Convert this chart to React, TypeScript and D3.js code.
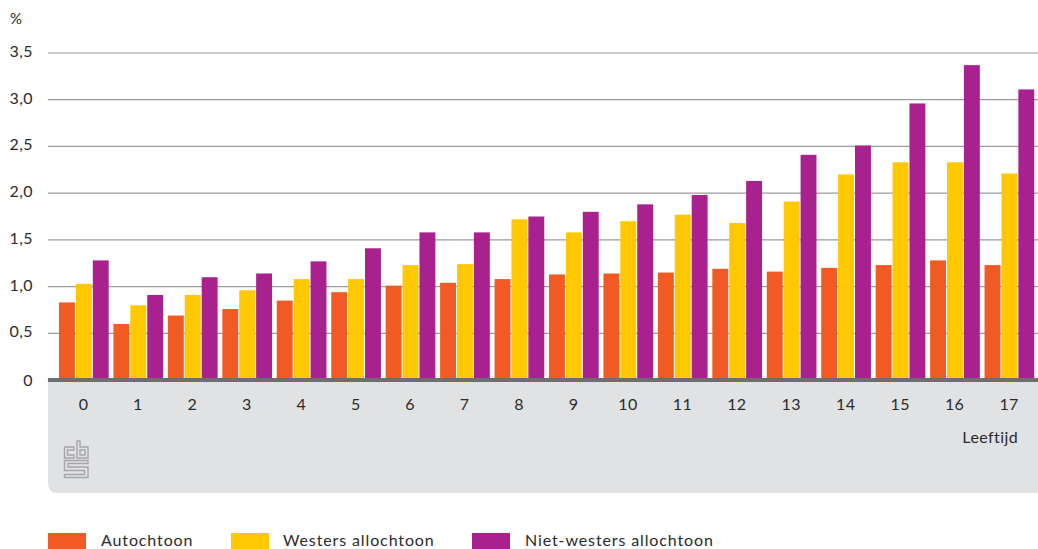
import React from "react";
import * as d3 from "d3";

const ages = ["0","1","2","3","4","5","6","7","8","9","10","11","12","13","14","15","16","17"];
const autochtoon = [0.83,0.60,0.69,0.76,0.85,0.94,1.01,1.04,1.08,1.13,1.14,1.15,1.19,1.16,1.20,1.23,1.28,1.23];
const westers = [1.03,0.80,0.91,0.96,1.08,1.08,1.23,1.24,1.72,1.58,1.70,1.77,1.68,1.91,2.20,2.33,2.33,2.21];
const nietWesters = [1.28,0.91,1.10,1.14,1.27,1.41,1.58,1.58,1.75,1.80,1.88,1.98,2.13,2.41,2.51,2.96,3.37,3.11];
const ticks = [0,0.5,1,1.5,2,2.5,3,3.5];
const seriesNames = ["Autochtoon","Westers allochtoon","Niet-westers allochtoon"];
const seriesValues = [autochtoon, westers, nietWesters];
const colors = ["#f15a22","#ffc800","#a9218e"];
const legendX = [48,231,472];

const FONT = "Lato, 'Noto Sans', sans-serif";
const TEXT = "#2b2b2b";

const fmt = (v: number) => v === 0 ? "0" : v.toFixed(1).replace(".", ",");

export default function App() {
  const y = d3.scaleLinear().domain([0,3.5]).range([380,53]);
  const x = d3.scaleBand<string>().domain(ages).range([56.8,1036.8]);
  const inner = d3.scaleBand<string>().domain(["0","1","2"]).range([2.2,52.9]);
  return (
    <svg width={1038} height={549} style={{position:"absolute",left:0,top:0,display:"block",background:"#fff"}} fontFamily={FONT}>
      <text x={10} y={24} fontSize={15} fill={TEXT}>%</text>
      <path d="M48,380 H1038 V493 H58 Q48,493 48,483 Z" fill="#e1e2e4"/>
      {ticks.filter(t=>t>0).map(t=>(
        <line key={t} x1={48} x2={1038} y1={y(t)} y2={y(t)} stroke="#9a9b9c" strokeWidth={1.2}/>
      ))}
      {ticks.map(t=>(
        <text key={t} x={33} y={y(t)+(t>0?4:5.5)} fontSize={16} letterSpacing={0.4} textAnchor="end" fill={TEXT}>{fmt(t)}</text>
      ))}
      {seriesValues.map((vals,s)=>vals.map((v,i)=>(
        <rect key={`${s}-${i}`} x={(x(ages[i]) as number)+(inner(String(s)) as number)} y={y(v)} width={inner.bandwidth()-1} height={380-y(v)} fill={colors[s]}/>
      )))}
      <rect x={48} y={378} width={990} height={4} fill="#6d6e70"/>
      {ages.map(a=>(
        <text key={a} x={(x(a) as number)+x.bandwidth()/2-0.5} y={410} fontSize={16} letterSpacing={0.4} textAnchor="middle" fill={TEXT}>{a}</text>
      ))}
      <text x={1018} y={443} fontSize={16} letterSpacing={0.4} textAnchor="end" fill={TEXT}>Leeftijd</text>
      <g fill="none" stroke="#a6a7a9" strokeWidth={1.4}>
        <path d="M74,447 H64.5 V458 H74 V455 H67.5 V450 H74 Z"/>
        <path d="M77,441 H80 V447 H88 V458 H77 Z"/>
        <path d="M80,450 H85 V455 H80 Z"/>
        <path d="M64.5,460.5 H88 V463.5 H68 V467 H88 V477.5 H64.5 V474.5 H84.5 V470.5 H64.5 Z"/>
      </g>
      {seriesNames.map((n,i)=>(
        <g key={n}>
          <rect x={legendX[i]} y={533} width={38} height={16} fill={colors[i]}/>
          <text x={legendX[i]+(i===1?52:53)} y={545.5} fontSize={16} letterSpacing={0.88} fill={TEXT}>{n}</text>
        </g>
      ))}
    </svg>
  );
}
